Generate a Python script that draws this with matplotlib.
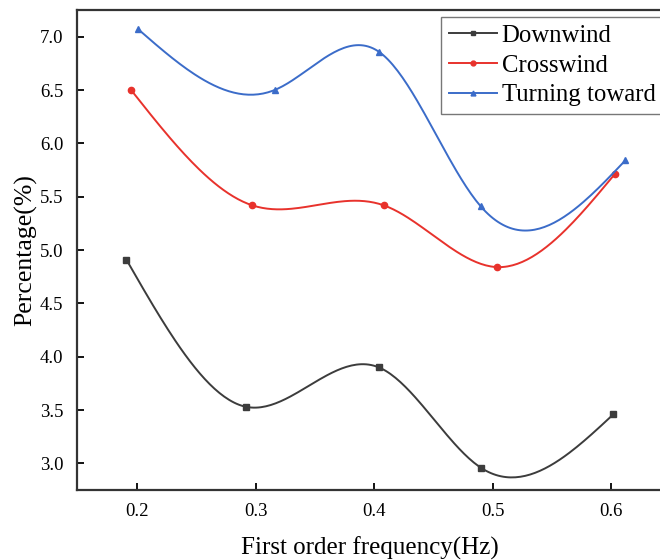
import numpy as np
import matplotlib
matplotlib.use("Agg")
import matplotlib.pyplot as plt

freq_down = [0.191, 0.292, 0.404, 0.490, 0.602]
pct_down = [4.91, 3.53, 3.90, 2.96, 3.46]
freq_cross = [0.195, 0.297, 0.408, 0.504, 0.603]
pct_cross = [6.50, 5.42, 5.42, 4.84, 5.71]
freq_turn = [0.201, 0.316, 0.404, 0.490, 0.612]
pct_turn = [7.07, 6.50, 6.86, 5.41, 5.84]

labels = ["Downwind", "Crosswind", "Turning toward"]
x_ticks = [0.2, 0.3, 0.4, 0.5, 0.6]
y_ticks = [3.0, 3.5, 4.0, 4.5, 5.0, 5.5, 6.0, 6.5, 7.0]


def spline(x, y, n=200):
    # natural cubic spline, only for drawing the smooth connecting line
    x = np.asarray(x, float); y = np.asarray(y, float)
    k = len(x); h = np.diff(x)
    A = np.zeros((k, k)); b = np.zeros(k)
    A[0, 0] = A[-1, -1] = 1
    for i in range(1, k - 1):
        A[i, i - 1] = h[i - 1]; A[i, i] = 2 * (h[i - 1] + h[i]); A[i, i + 1] = h[i]
        b[i] = 6 * ((y[i + 1] - y[i]) / h[i] - (y[i] - y[i - 1]) / h[i - 1])
    M = np.linalg.solve(A, b)
    xs = np.linspace(x[0], x[-1], n)
    j = np.clip(np.searchsorted(x, xs) - 1, 0, k - 2)
    t0 = x[j + 1] - xs; t1 = xs - x[j]; hj = h[j]
    ys = (M[j] * t0**3 + M[j + 1] * t1**3) / (6 * hj) \
        + (y[j] / hj - M[j] * hj / 6) * t0 + (y[j + 1] / hj - M[j + 1] * hj / 6) * t1
    return xs, ys


plt.rcParams["font.family"] = ["Liberation Serif", "DejaVu Serif"]
fig = plt.figure(figsize=(6.6, 5.6), dpi=100)
ax = fig.add_axes([0.117, 0.125, 0.886, 0.857])

series = [
    (freq_down, pct_down, "#3c3c3c", "s"),
    (freq_cross, pct_cross, "#e8322c", "o"),
    (freq_turn, pct_turn, "#3b6cc9", "^"),
]
for (xv, yv, c, mk), lab in zip(series, labels):
    xs, ys = spline(xv, yv)
    ax.plot(xs, ys, color=c, lw=1.4)
    ax.plot(xv, yv, ls="none", marker=mk, ms=4.5, color=c)
    ax.plot([], [], color=c, lw=1.4, marker=mk, ms=3.5, label=lab)

ax.set_xlim(0.1495, 0.643)
ax.set_ylim(2.75, 7.25)
ax.set_xticks(x_ticks)
ax.set_xticklabels([f"{v:.1f}" for v in x_ticks])
ax.set_yticks(y_ticks)
ax.set_yticklabels([f"{v:.1f}" for v in y_ticks])
ax.tick_params(direction="in", length=5, width=1.3, labelsize=13.5)
ax.tick_params(axis="x", pad=9)
ax.tick_params(axis="y", pad=10)
for s in ax.spines.values():
    s.set_linewidth(1.6); s.set_color("#333333")
ax.set_xlabel("First order frequency(Hz)", fontsize=18, labelpad=12)
ax.set_ylabel("Percentage(%)", fontsize=18.5, labelpad=2)

leg = ax.legend(loc="upper right", bbox_to_anchor=(1.0017, 0.985), borderaxespad=0,
                fontsize=17.8, frameon=True, fancybox=False,
                edgecolor="#555555", handlelength=1.95, handletextpad=0.2,
                borderpad=0.3, labelspacing=0.3)
leg.get_frame().set_linewidth(1.0)

fig.savefig("out.png", dpi=100)
